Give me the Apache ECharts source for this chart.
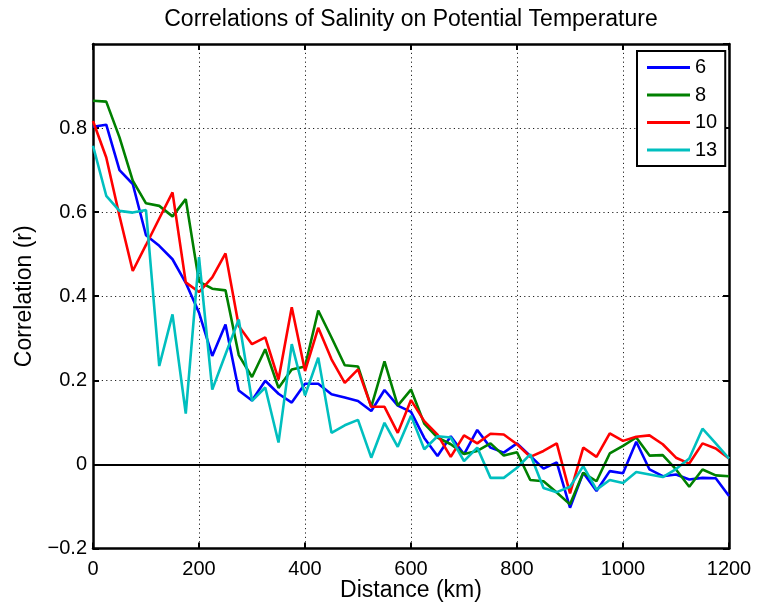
<!DOCTYPE html>
<html>
<head>
<meta charset="utf-8">
<script src="https://cdn.jsdelivr.net/npm/echarts@6/dist/echarts.min.js"></script>
<style>
html,body{margin:0;padding:0;background:#fff;}
#c{width:759px;height:603px;}
</style>
</head>
<body>
<div id="c"></div>
<script>
var distances = [0,25,50,75,100,125,150,175,200,225,250,275,300,325,350,375,400,425,450,475,500,525,550,575,600,625,650,675,700,725,750,775,800,825,850,875,900,925,950,975,1000,1025,1050,1075,1100,1125,1150,1175,1200];
var series6 = [0.803,0.808,0.700,0.667,0.545,0.520,0.488,0.432,0.361,0.258,0.333,0.176,0.152,0.199,0.168,0.147,0.192,0.192,0.167,0.159,0.151,0.127,0.177,0.140,0.125,0.063,0.020,0.067,0.024,0.082,0.040,0.028,0.050,0.020,-0.010,0.005,-0.103,-0.020,-0.063,-0.016,-0.021,0.054,-0.012,-0.028,-0.024,-0.036,-0.032,-0.033,-0.075];
var series8 = [0.865,0.863,0.778,0.675,0.621,0.615,0.590,0.631,0.435,0.418,0.414,0.260,0.208,0.274,0.182,0.226,0.233,0.366,0.302,0.236,0.233,0.137,0.245,0.140,0.178,0.097,0.064,0.048,0.025,0.032,0.050,0.021,0.029,-0.037,-0.040,-0.067,-0.095,-0.020,-0.040,0.026,0.044,0.064,0.021,0.022,-0.012,-0.053,-0.012,-0.026,-0.028];
var series10 = [0.817,0.730,0.591,0.460,0.522,0.585,0.647,0.433,0.410,0.445,0.502,0.329,0.286,0.302,0.202,0.374,0.222,0.325,0.250,0.194,0.226,0.137,0.137,0.075,0.153,0.103,0.071,0.018,0.069,0.050,0.073,0.071,0.048,0.018,0.032,0.050,-0.069,0.040,0.018,0.074,0.056,0.066,0.069,0.048,0.016,0.002,0.050,0.038,0.014];
var series13 = [0.758,0.639,0.603,0.599,0.605,0.234,0.357,0.121,0.493,0.178,0.262,0.345,0.151,0.183,0.052,0.286,0.164,0.254,0.075,0.093,0.106,0.016,0.099,0.042,0.116,0.036,0.067,0.064,0.008,0.040,-0.032,-0.032,-0.008,0.024,-0.056,-0.066,-0.053,-0.004,-0.060,-0.037,-0.044,-0.018,-0.024,-0.030,-0.011,0.014,0.085,0.050,0.014];
var seriesNames = ['6','8','10','13'];
var seriesColors = ['#0000ff','#008000','#ff0000','#00bfbf'];
var xTicks = {min:0, max:1200, interval:200};
var yTicks = {min:-0.2, max:1, interval:0.2};

var FONT = '"Liberation Sans", Arial, Helvetica, sans-serif';
function pairs(vals){ return distances.map(function(d,i){ return [d, vals[i]]; }); }
var allVals = [series6, series8, series10, series13];

var lineSeries = allVals.map(function(v, i){
  return {
    name: seriesNames[i], type: 'line', data: pairs(v),
    showSymbol: false, symbol: 'none', smooth: false,
    lineStyle: {color: seriesColors[i], width: 2.6},
    itemStyle: {color: seriesColors[i]},
    z: 3
  };
});
lineSeries.push({
  name: 'zero', type: 'line', data: [], silent: true,
  markLine: {silent: true, symbol: ['none','none'], label: {show:false},
    lineStyle: {color:'#000', width:2, type:'solid'},
    data: [{yAxis: 0}]},
  z: 4
});

var axisLineStyle = {color:'#000', width:2.5};
var dotted = {color:'#222', width:1, type:[1.2,3.2]};

function yFmt(v){
  var n = Number(Number(v).toFixed(1));
  if (n < 0) return '\u2212' + Math.abs(n);
  return String(n);
}
function xFmt(v){ return String(Math.round(v)); }

var option = {
  animation: false,
  backgroundColor: '#fff',
  title: {
    text: 'Correlations of Salinity on Potential Temperature',
    left: 406, top: 3, textAlign: 'center',
    textStyle: {fontFamily: FONT, fontSize: 23, fontWeight: 'normal', color:'#000'}
  },
  legend: {
    data: seriesNames, left: 637, top: 51, orient: 'vertical',
    padding: [6.5, 8, 6, 10], itemGap: 7.5, itemWidth: 43, itemHeight: 3,
    icon: 'rect', itemTextGap: 5,
    borderColor: '#000', borderWidth: 2, backgroundColor: '#fff',
    textStyle: {fontFamily: FONT, fontSize: 20, color:'#000', lineHeight: 20}
  },
  grid: {left: 93, right: 30, top: 44, bottom: 54.5, containLabel: false, outerBoundsMode: 'none'},
  xAxis: [{
    type:'value', position:'bottom', min:xTicks.min, max:xTicks.max, interval:xTicks.interval,
    axisLine:{show:true, onZero:false, lineStyle:axisLineStyle},
    axisTick:{show:true, inside:true, length:6, lineStyle:{color:'#000', width:2}},
    axisLabel:{fontFamily:FONT, fontSize:20, color:'#000', margin:11, formatter:xFmt},
    splitLine:{show:true, lineStyle:dotted},
    name:'Distance (km)', nameLocation:'middle', nameGap:31, nameMoveOverlap:false,
    nameTextStyle:{fontFamily:FONT, fontSize:23, color:'#000'}
  },{
    type:'value', position:'top', min:xTicks.min, max:xTicks.max, interval:xTicks.interval,
    axisLine:{show:true, onZero:false, lineStyle:axisLineStyle},
    axisTick:{show:true, inside:true, length:6, lineStyle:{color:'#000', width:2}},
    axisLabel:{show:false}, splitLine:{show:false}
  }],
  yAxis: [{
    type:'value', position:'left', min:yTicks.min, max:yTicks.max, interval:yTicks.interval,
    axisLine:{show:true, onZero:false, lineStyle:axisLineStyle},
    axisTick:{show:true, inside:true, length:6, lineStyle:{color:'#000', width:2}},
    axisLabel:{fontFamily:FONT, fontSize:20, color:'#000', margin:6, formatter:yFmt, showMaxLabel:false},
    splitLine:{show:true, lineStyle:dotted},
    name:'Correlation (r)', nameLocation:'middle', nameGap:57, nameRotate:90, nameMoveOverlap:false,
    nameTextStyle:{fontFamily:FONT, fontSize:23, color:'#000'}
  },{
    type:'value', position:'right', min:yTicks.min, max:yTicks.max, interval:yTicks.interval,
    axisLine:{show:true, onZero:false, lineStyle:axisLineStyle},
    axisTick:{show:true, inside:true, length:6, lineStyle:{color:'#000', width:2}},
    axisLabel:{show:false}, splitLine:{show:false}
  }],
  series: lineSeries
};
var chart = echarts.init(document.getElementById('c'), null, {renderer:'canvas'});
chart.setOption(option);
</script>
</body>
</html>
